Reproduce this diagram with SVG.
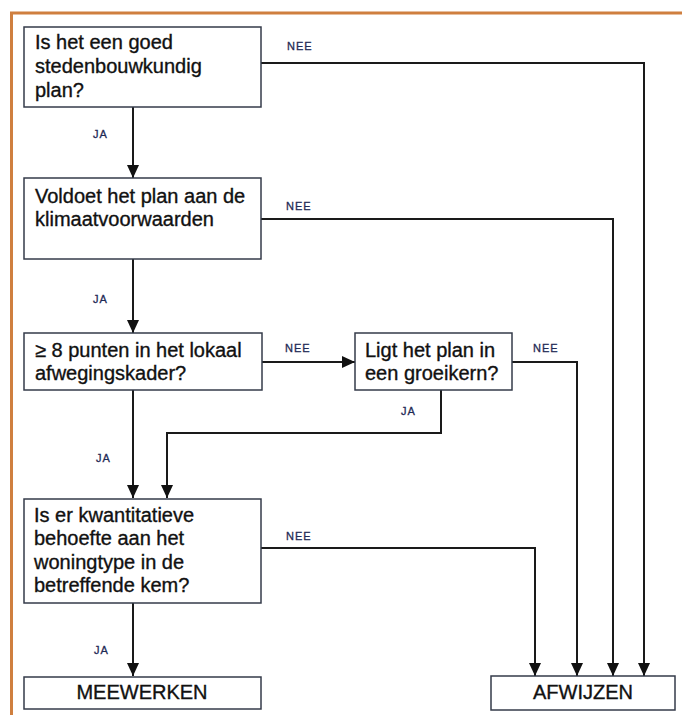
<svg xmlns="http://www.w3.org/2000/svg" width="682" height="715" viewBox="0 0 682 715">
<defs>
<marker id="ah" markerUnits="userSpaceOnUse" markerWidth="13" markerHeight="12" refX="13" refY="6" orient="auto">
<path d="M0,0 L13,6 L0,12 z" fill="#111"/>
</marker>
<style>
.box{fill:#fff;stroke:#353b4a;stroke-width:1.5}
.t{font-family:"Liberation Sans",Arial,sans-serif;font-size:20px;fill:#111;stroke:#111;stroke-width:0.35}
.c{text-anchor:middle}
.lbl{font-family:"Liberation Sans",Arial,sans-serif;font-size:11px;fill:#1f2a55;stroke:#1f2a55;stroke-width:0.3;letter-spacing:1px}
.con{fill:none;stroke:#1a1a1a;stroke-width:2}
.arr{marker-end:url(#ah)}
</style>
</defs>
<rect width="682" height="715" fill="#fff"/>
<path d="M11.5,715 V13 H682" fill="none" stroke="#cf7f3f" stroke-width="3"/>
<g id="connectors">
<path class="con arr" d="M133,107 V178"/>
<path class="con arr" d="M133,259 V333"/>
<path class="con arr" d="M133,390 V498"/>
<path class="con arr" d="M441,390 V433 H167 V498"/>
<path class="con arr" d="M133,603 V676"/>
<path class="con arr" d="M261,63 H644 V676"/>
<path class="con arr" d="M261,219 H613 V676"/>
<path class="con arr" d="M262,362 H355"/>
<path class="con arr" d="M512,362 H577 V676"/>
<path class="con arr" d="M261,548 H535 V676"/>
<text class="lbl" x="287" y="50">NEE</text>
<text class="lbl" x="93" y="138">JA</text>
<text class="lbl" x="286" y="210">NEE</text>
<text class="lbl" x="93" y="303">JA</text>
<text class="lbl" x="285" y="352">NEE</text>
<text class="lbl" x="533" y="352">NEE</text>
<text class="lbl" x="401" y="415">JA</text>
<text class="lbl" x="96" y="462">JA</text>
<text class="lbl" x="286" y="540">NEE</text>
<text class="lbl" x="94" y="654">JA</text>
</g>
<g id="q1">
<rect class="box" x="24" y="27" width="237" height="80"/>
<text class="t" x="35" y="49">Is het een goed</text>
<text class="t" x="35" y="73">stedenbouwkundig</text>
<text class="t" x="35" y="97">plan?</text>
</g>
<g id="q2">
<rect class="box" x="24" y="178" width="237" height="81"/>
<text class="t" x="35" y="203">Voldoet het plan aan de</text>
<text class="t" x="35" y="226">klimaatvoorwaarden</text>
</g>
<g id="q3">
<rect class="box" x="24" y="333" width="238" height="57"/>
<text class="t" x="35" y="357">≥ 8 punten in het lokaal</text>
<text class="t" x="35" y="380">afwegingskader?</text>
</g>
<g id="q4">
<rect class="box" x="355" y="333" width="157" height="57"/>
<text class="t" x="365" y="357">Ligt het plan in</text>
<text class="t" x="365" y="380">een groeikern?</text>
</g>
<g id="q5">
<rect class="box" x="24" y="499" width="237" height="104"/>
<text class="t" x="34" y="522">Is er kwantitatieve</text>
<text class="t" x="34" y="545">behoefte aan het</text>
<text class="t" x="34" y="569">woningtype in de</text>
<text class="t" x="34" y="592">betreffende kem?</text>
</g>
<g id="meewerken">
<rect class="box" x="24" y="677" width="237" height="32"/>
<text class="t c" x="142" y="699">MEEWERKEN</text>
</g>
<g id="afwijzen">
<rect class="box" x="491" y="676" width="184" height="34"/>
<text class="t c" x="583" y="699">AFWIJZEN</text>
</g>
</svg>
